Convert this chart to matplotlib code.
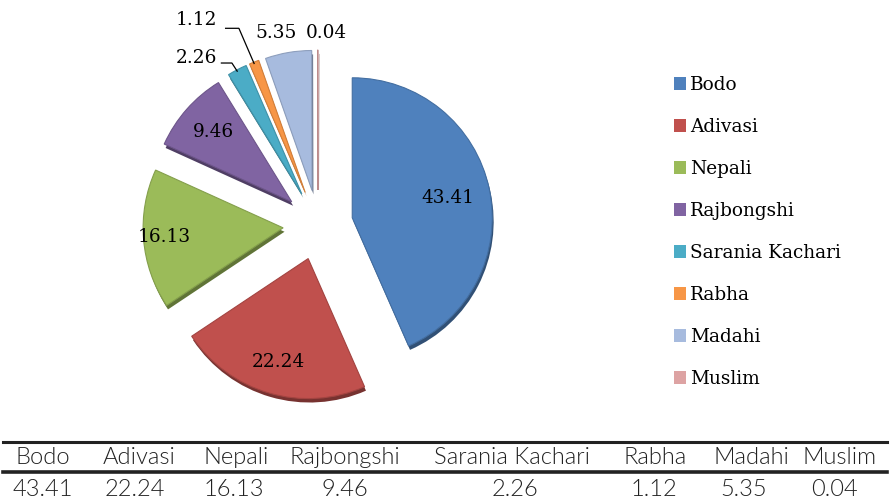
import numpy as np
import matplotlib
matplotlib.use("Agg")
import matplotlib.pyplot as plt
from matplotlib.patches import Patch
from matplotlib.colors import to_rgb

# data
groups = ["Bodo", "Adivasi", "Nepali", "Rajbongshi", "Sarania Kachari",
          "Rabha", "Madahi", "Muslim"]
shares = [43.41, 22.24, 16.13, 9.46, 2.26, 1.12, 5.35, 0.04]
colors = ["#4F81BD", "#C0504D", "#9BBB59", "#8064A2", "#4BACC6",
          "#F79646", "#A7BBDE", "#DDA3A3"]

W, H = 890, 501
fig = plt.figure(figsize=(W / 100, H / 100), dpi=100)
serif = "DejaVu Serif"
fs = 13.3

# pie axes: 400x400 px square, centre at (318, 225) from top-left
ax = fig.add_axes([118 / W, 76 / H, 400 / W, 400 / H])
lim = 200 / 140
explode = [0.25] * len(shares)


def darker(c, f=0.7):
    r, g, b = to_rgb(c)
    return (r * f, g * f, b * f)


# "depth" layer, a bit darker and shifted down to fake the 3d edge
ax.pie(shares, colors=[darker(c, 0.62) for c in colors], explode=explode,
       startangle=90, counterclock=False, center=(0.01, -0.028),
       wedgeprops=dict(linewidth=0))
wedges, _ = ax.pie(shares, colors=colors, explode=explode, startangle=90,
                   counterclock=False, wedgeprops=dict(linewidth=0.8))
for w, c in zip(wedges, colors):
    w.set_edgecolor(darker(c, 0.85))

ax.set_xlim(-lim, lim)
ax.set_ylim(-lim, lim)
ax.set_aspect("equal")
ax.axis("off")


def mid_dir(w):
    a = np.deg2rad((w.theta1 + w.theta2) / 2)
    return np.cos(a), np.sin(a)


# labels inside the large slices (distance from pie centre, in radii)
inner_dist = [0.95, 1.02, 1.1, 1.0]
for i, d in enumerate(inner_dist):
    dx, dy = mid_dir(wedges[i])
    ax.text(dx * d, dy * d, f"{shares[i]:.2f}", ha="center", va="center",
            family=serif, fontsize=fs, color="black")

# small slices, with leader lines
outer = {}
for i in range(4, 8):
    dx, dy = mid_dir(wedges[i])
    outer[i] = (dx * 1.25, dy * 1.25)

# Sarania Kachari
ax.text(-0.72, 1.19, f"{shares[4]:.2f}", ha="right", va="center",
        family=serif, fontsize=fs)
ax.plot([-0.69, -0.615, outer[4][0]], [1.157, 1.157, outer[4][1] - 0.01],
        color="black", lw=0.9)
# Rabha
ax.text(-0.72, 1.465, f"{shares[5]:.2f}", ha="right", va="center",
        family=serif, fontsize=fs)
ax.plot([-0.66, -0.565, outer[5][0]], [1.405, 1.405, outer[5][1] - 0.01],
        color="black", lw=0.9)
# Madahi, Muslim
ax.text(-0.30, 1.37, f"{shares[6]:.2f}", ha="center", va="center",
        family=serif, fontsize=fs)
ax.text(0.06, 1.37, f"{shares[7]:.2f}", ha="center", va="center",
        family=serif, fontsize=fs)

# legend
handles = [Patch(facecolor=c, edgecolor="none") for c in colors]
fig.legend(handles, groups, loc="upper left",
           bbox_to_anchor=(674 / W, 1 - 76 / H), frameon=False,
           handlelength=0.65, handleheight=0.65, handletextpad=0.2,
           labelspacing=1.30, borderpad=0, borderaxespad=0,
           prop=dict(family=serif, size=fs))

# table at the bottom
tab = fig.add_axes([0, 0, 1, 1])
tab.set_xlim(0, W)
tab.set_ylim(H, 0)
tab.axis("off")
tfont = dict(family=["Lato", "Roboto", "DejaVu Sans"], weight=300,
             size=17, color="#222222")
head_x = [43, 139, 236, 345, 512, 655, 751, 840]
val_x = [43, 135, 234, 345, 515, 654, 744, 835]
tab.plot([3, 887], [442, 442], color="#222222", lw=2.2)
tab.plot([3, 887], [472, 472], color="#222222", lw=2.6)
for name, val, hx, vx in zip(groups, shares, head_x, val_x):
    tab.text(hx, 458, name, ha="center", va="center", **tfont)
    tab.text(vx, 490, f"{val:.2f}", ha="center", va="center", **tfont)

fig.savefig("out.png", dpi=100)
